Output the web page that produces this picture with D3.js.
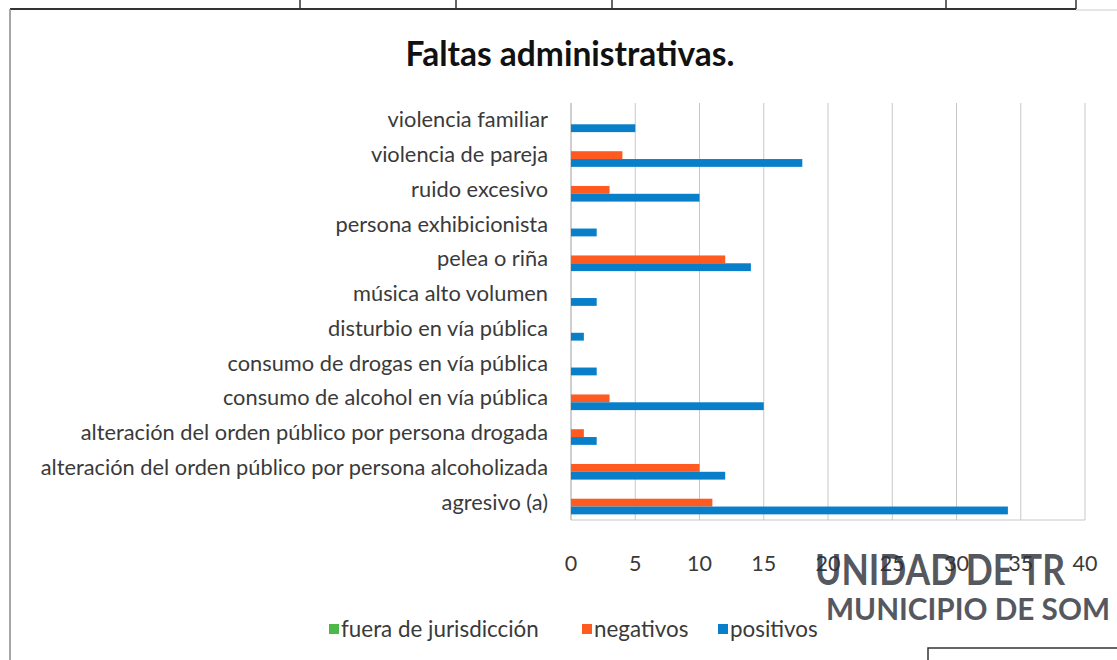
<!DOCTYPE html>
<html>
<head>
<meta charset="utf-8">
<script src="https://cdn.jsdelivr.net/npm/d3@7"></script>
<style>
  body { margin: 0; background: #fff; }
  svg text { font-family: Lato, "Open Sans", sans-serif; }
</style>
</head>
<body>
<div id="chart"></div>
<script>
'use strict';

const w = 1117;
const h = 660;

// categories, top to bottom
const categories = [
  "violencia familiar",
  "violencia de pareja",
  "ruido excesivo",
  "persona exhibicionista",
  "pelea o riña",
  "música alto volumen",
  "disturbio en vía pública",
  "consumo de drogas en vía pública",
  "consumo de alcohol en vía pública",
  "alteración del orden público por persona drogada",
  "alteración del orden público por persona alcoholizada",
  "agresivo (a)"
];

const seriesNames = ["fuera de jurisdicción", "negativos", "positivos"];
const fueraValues = [0, 0, 0, 0, 0, 0, 0, 0, 0, 0, 0, 0];
const negativosValues = [0, 4, 3, 0, 12, 0, 0, 0, 3, 1, 10, 11];
const positivosValues = [5, 18, 10, 2, 14, 2, 1, 2, 15, 2, 12, 34];
const xTicks = [0, 5, 10, 15, 20, 25, 30, 35, 40];

const seriesColors = ["#4cb848", "#ff5a1f", "#0a7fc9"];
const seriesValues = [fueraValues, negativosValues, positivosValues];

const svg = d3.select("#chart").append("svg")
  .attr("width", w)
  .attr("height", h);

//Scanned page frame bits
const page = svg.append("g").attr("stroke", "#333").attr("fill", "none");
page.append("line").attr("x1", 10).attr("x2", 1076).attr("y1", 9).attr("y2", 9).attr("stroke-width", 2);
[300, 456, 612, 946, 1076].forEach(x =>
  page.append("line").attr("x1", x).attr("x2", x).attr("y1", 0).attr("y2", 9).attr("stroke-width", 1.5));
svg.append("line").attr("x1", 10).attr("x2", 10).attr("y1", 9).attr("y2", h)
  .attr("stroke", "#888").attr("stroke-width", 1.5);
svg.append("line").attr("x1", 1076).attr("x2", w).attr("y1", 10).attr("y2", 10)
  .attr("stroke", "#ccc").attr("stroke-width", 1);

//Title
svg.append("text")
  .attr("x", 570).attr("y", 66)
  .attr("text-anchor", "middle")
  .attr("font-size", 33.5).attr("font-weight", "bold")
  .attr("fill", "#111")
  .text("Faltas administrativas.");

const margin = { left: 571, right: 32, top: 103, bottom: 140 };

const x = d3.scaleLinear()
  .domain([0, 40])
  .range([margin.left, w - margin.right]);

const y = d3.scaleBand()
  .domain(categories)
  .range([margin.top, h - margin.bottom])
  .paddingInner(0)
  .paddingOuter(0);

const ySub = d3.scaleBand()
  .domain(seriesNames)
  .range([0, y.bandwidth()])
  .paddingInner(0)
  .paddingOuter(0.72);

//Gridlines
svg.append("g")
  .selectAll("line")
  .data(xTicks)
  .enter()
  .append("line")
  .attr("x1", d => x(d)).attr("x2", d => x(d))
  .attr("y1", margin.top).attr("y2", h - margin.bottom)
  .attr("stroke", d => d === 0 ? "#a0a0a0" : "#c8c8c8")
  .attr("stroke-width", 1);

svg.append("line")
  .attr("x1", x(0)).attr("x2", x(40))
  .attr("y1", h - margin.bottom).attr("y2", h - margin.bottom)
  .attr("stroke", "#c8c8c8");

//Bars
const rows = categories.map((c, i) => ({
  category: c,
  values: seriesNames.map((s, j) => ({ series: s, value: seriesValues[j][i], color: seriesColors[j] }))
}));

const group = svg.append("g")
  .selectAll("g")
  .data(rows)
  .enter()
  .append("g")
  .attr("transform", d => "translate(0," + y(d.category) + ")");

group.selectAll("rect")
  .data(d => d.values.filter(v => v.value > 0))
  .enter()
  .append("rect")
  .attr("x", x(0))
  .attr("y", d => ySub(d.series))
  .attr("width", d => x(d.value) - x(0))
  .attr("height", ySub.bandwidth())
  .attr("fill", d => d.color);

//Category labels
svg.append("g")
  .selectAll("text")
  .data(categories)
  .enter()
  .append("text")
  .attr("x", 548)
  .attr("y", d => y(d) + y.bandwidth() / 2 + 7)
  .attr("text-anchor", "end")
  .attr("font-size", 21.8)
  .attr("fill", "#3a3a3a")
  .text(d => d);

//X tick labels
svg.append("g")
  .selectAll("text")
  .data(xTicks)
  .enter()
  .append("text")
  .attr("x", d => x(d))
  .attr("y", 571)
  .attr("text-anchor", "middle")
  .attr("font-size", 21.5)
  .attr("fill", "#3a3a3a")
  .text(d => d);

//Legend
const legendX = [329, 582, 718];
const legend = svg.append("g")
  .selectAll("g")
  .data(seriesNames)
  .enter()
  .append("g")
  .attr("transform", (d, i) => "translate(" + legendX[i] + ",624)");

legend.append("rect")
  .attr("width", 10).attr("height", 10)
  .attr("fill", (d, i) => seriesColors[i]);

legend.append("text")
  .attr("x", 12).attr("y", 13)
  .attr("font-size", 22.4)
  .attr("fill", "#3a3a3a")
  .text(d => d);

//Stamp overlay from the scan
const stamp = svg.append("g").attr("fill", "#2b2f38").attr("opacity", 0.8)
  .style("font-family", "'Liberation Sans Narrow', 'DejaVu Sans Condensed', sans-serif");
stamp.append("text")
  .attr("x", 815).attr("y", 585)
  .attr("font-size", 42).attr("font-weight", "bold")
  .attr("textLength", 250)
  .attr("lengthAdjust", "spacingAndGlyphs")
  .text("UNIDAD DE TR");
stamp.append("text")
  .attr("x", 826).attr("y", 620)
  .attr("font-size", 30).attr("font-weight", "bold")
  .attr("textLength", 284)
  .attr("lengthAdjust", "spacingAndGlyphs")
  .text("MUNICIPIO DE SOM");
svg.append("path")
  .attr("d", "M928,660 V648 H1117")
  .attr("fill", "none")
  .attr("stroke", "#333").attr("stroke-width", 1.5);
</script>
</body>
</html>
